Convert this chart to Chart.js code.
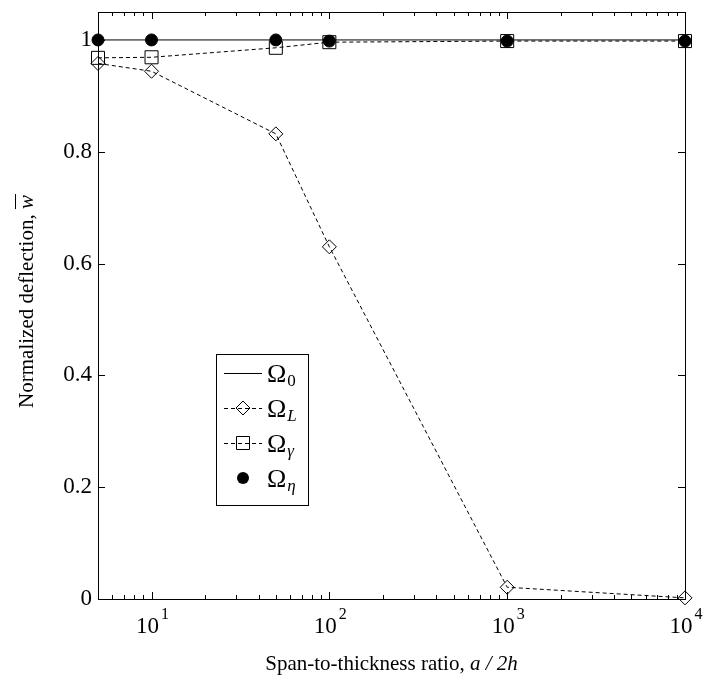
<!DOCTYPE html>
<html>
<head>
<meta charset="utf-8">
<script src="https://cdn.jsdelivr.net/npm/chart.js@4.4.0/dist/chart.umd.min.js"></script>
<style>
    html, body { margin: 0; padding: 0; background: #fff; }
    #wrap { width: 705px; height: 681px; }
</style>
</head>
<body>
<div id="wrap"><canvas id="chart"></canvas></div>
<script>
// span-to-thickness ratios
const ratios = [5, 10, 50, 100, 1000, 10000];
// normalized deflection per model
const omega0 = [1, 1, 1, 1, 1, 1];
const omegaL = [0.958, 0.944, 0.832, 0.630, 0.021, 0.002];
const omegaGamma = [0.968, 0.969, 0.986, 0.996, 0.998, 0.998];
const omegaEta = [1.0, 1.0, 1.0, 0.998, 0.998, 0.998];

const xTicks = [10, 100, 1000, 10000];
const xTickExp = ['1', '2', '3', '4'];
const yTicks = [0, 0.2, 0.4, 0.6, 0.8, 1];

const SERIF = "'Liberation Serif', 'DejaVu Serif', serif";

const toPoints = ys => ratios.map((x, i) => ({ x, y: ys[i] }));

// draws a marker like the ones used in the plot
function marker(ctx, style, x, y) {
    ctx.save();
    ctx.strokeStyle = '#000';
    ctx.lineWidth = 1;
    ctx.setLineDash([]);
    ctx.beginPath();
    if (style === 'diamond') {
        ctx.moveTo(x - 7, y); ctx.lineTo(x, y - 7); ctx.lineTo(x + 7, y); ctx.lineTo(x, y + 7);
        ctx.closePath();
        ctx.stroke();
    } else if (style === 'square') {
        ctx.rect(x - 6.5, y - 6.5, 13, 13);
        ctx.stroke();
    } else if (style === 'dot') {
        ctx.fillStyle = '#000';
        ctx.arc(x, y, 6, 0, Math.PI * 2);
        ctx.fill();
    }
    ctx.restore();
}

const framePlugin = {
    id: 'frame',
    afterDraw(chart) {
        const { ctx, chartArea: a, scales: { x, y } } = chart;
        ctx.save();
        ctx.strokeStyle = '#000';
        ctx.lineWidth = 1;
        ctx.strokeRect(a.left + 0.5, a.top + 0.5, a.right - a.left, a.bottom - a.top);

        // inward ticks, x (major + minor)
        ctx.beginPath();
        for (let d = 1; d <= 10000; d *= 10) {
            for (let m = 1; m <= 9; m++) {
                const v = d * m;
                if (v < 5 || v > 10000) continue;
                const px = Math.round(x.getPixelForValue(v)) + 0.5;
                const len = m === 1 ? 7 : 4;
                ctx.moveTo(px, a.bottom); ctx.lineTo(px, a.bottom - len);
                ctx.moveTo(px, a.top); ctx.lineTo(px, a.top + len);
            }
        }
        // inward ticks, y
        yTicks.forEach(v => {
            const py = Math.round(y.getPixelForValue(v)) + 0.5;
            ctx.moveTo(a.left, py); ctx.lineTo(a.left + 7, py);
            ctx.moveTo(a.right, py); ctx.lineTo(a.right - 7, py);
        });
        ctx.stroke();

        // x tick labels 10^n
        ctx.fillStyle = '#000';
        ctx.textBaseline = 'alphabetic';
        xTicks.forEach((v, i) => {
            const px = x.getPixelForValue(v);
            ctx.font = '23px ' + SERIF;
            const w1 = ctx.measureText('10').width;
            ctx.font = '16px ' + SERIF;
            const w2 = ctx.measureText(xTickExp[i]).width;
            const left = px - (w1 + w2) / 2;
            ctx.font = '23px ' + SERIF;
            ctx.textAlign = 'left';
            ctx.fillText('10', left, 633);
            ctx.font = '16px ' + SERIF;
            ctx.fillText(xTickExp[i], left + w1 + 2, 619);
        });

        // x title
        ctx.font = '21px ' + SERIF;
        const t1 = 'Span-to-thickness ratio, ';
        const t2 = 'a / 2h';
        const tw1 = ctx.measureText(t1).width;
        ctx.font = 'italic 21px ' + SERIF;
        const tw2 = ctx.measureText(t2).width;
        let sx = (a.left + a.right) / 2 - (tw1 + tw2) / 2;
        ctx.font = '21px ' + SERIF;
        ctx.fillText(t1, sx, 670);
        ctx.font = 'italic 21px ' + SERIF;
        ctx.fillText(t2, sx + tw1, 670);

        // y title (rotated)
        ctx.save();
        ctx.translate(33, (a.top + a.bottom) / 2 - 4);
        ctx.rotate(-Math.PI / 2);
        ctx.font = '21px ' + SERIF;
        const y1 = 'Normalized deflection, ';
        const yw1 = ctx.measureText(y1).width;
        ctx.font = 'italic 21px ' + SERIF;
        const yw2 = ctx.measureText('w').width;
        const ys = -(yw1 + yw2) / 2;
        ctx.font = '21px ' + SERIF;
        ctx.fillText(y1, ys, 0);
        ctx.font = 'italic 21px ' + SERIF;
        ctx.fillText('w', ys + yw1, 0);
        ctx.beginPath();
        ctx.moveTo(ys + yw1, -17.5); ctx.lineTo(ys + yw1 + yw2 + 1, -17.5);
        ctx.stroke();
        ctx.restore();

        // legend
        const lx = 216, ly = 354, lw = 92, lh = 151;
        ctx.fillStyle = '#fff';
        ctx.fillRect(lx, ly, lw, lh);
        ctx.strokeRect(lx + 0.5, ly + 0.5, lw, lh);
        const rows = [
            { sub: '0', italic: false, dash: [], line: true, mk: null },
            { sub: 'L', italic: true, dash: [4, 3], line: true, mk: 'diamond' },
            { sub: 'γ', italic: true, dash: [4, 3], line: true, mk: 'square' },
            { sub: 'η', italic: true, dash: [], line: false, mk: 'dot' }
        ];
        rows.forEach((r, i) => {
            const cy = 373 + i * 35;
            if (r.line) {
                ctx.beginPath();
                ctx.setLineDash(r.dash);
                ctx.moveTo(224, cy + 0.5); ctx.lineTo(262, cy + 0.5);
                ctx.stroke();
                ctx.setLineDash([]);
            }
            if (r.mk) marker(ctx, r.mk, 243, cy);
            ctx.fillStyle = '#000';
            ctx.font = '26px ' + SERIF;
            ctx.textAlign = 'left';
            ctx.fillText('Ω', 267, cy + 9);
            const ow = ctx.measureText('Ω').width;
            ctx.font = (r.italic ? 'italic ' : '') + '17px ' + SERIF;
            ctx.fillText(r.sub, 267 + ow + 1, cy + 13);
        });
        ctx.restore();
    }
};

new Chart(document.getElementById('chart'), {
    type: 'line',
    data: {
        datasets: [
            {
                label: 'Ω0',
                data: toPoints(omega0),
                borderColor: '#000',
                borderWidth: 1,
                pointRadius: 0,
                order: 3,
                clip: false
            },
            {
                label: 'ΩL',
                data: toPoints(omegaL),
                borderColor: '#000',
                backgroundColor: 'rgba(0,0,0,0)',
                borderWidth: 1,
                borderDash: [4, 3],
                pointStyle: 'rectRot',
                pointRadius: 7,
                pointBorderWidth: 1,
                pointBackgroundColor: 'rgba(0,0,0,0)',
                order: 2,
                clip: false
            },
            {
                label: 'Ωγ',
                data: toPoints(omegaGamma),
                borderColor: '#000',
                backgroundColor: 'rgba(0,0,0,0)',
                borderWidth: 1,
                borderDash: [4, 3],
                pointStyle: 'rect',
                pointRadius: 9.2,
                pointBorderWidth: 1,
                pointBackgroundColor: 'rgba(0,0,0,0)',
                order: 1,
                clip: false
            },
            {
                label: 'Ωη',
                data: toPoints(omegaEta),
                borderColor: '#000',
                backgroundColor: '#000',
                showLine: false,
                pointStyle: 'circle',
                pointRadius: 6,
                pointBackgroundColor: '#000',
                order: 0,
                clip: false
            }
        ]
    },
    options: {
        responsive: true,
        maintainAspectRatio: false,
        animation: false,
        layout: { padding: { top: 12, right: 20, left: 0, bottom: 0 } },
        plugins: {
            legend: { display: false },
            tooltip: { enabled: false }
        },
        scales: {
            x: {
                type: 'logarithmic',
                min: 5,
                max: 10000,
                grid: { display: false, drawTicks: false },
                border: { display: false },
                ticks: { display: false },
                afterBuildTicks: s => { s.ticks = xTicks.map(v => ({ value: v })); },
                afterFit: s => { s.height = 82; s.paddingLeft = 0; s.paddingRight = 0; }
            },
            y: {
                min: 0,
                max: 1.05,
                grid: { display: false, drawTicks: false },
                border: { display: false },
                ticks: {
                    color: '#000',
                    padding: 6,
                    font: { family: SERIF, size: 23 },
                    callback: v => String(v)
                },
                afterBuildTicks: s => { s.ticks = yTicks.map(v => ({ value: v })); },
                afterFit: s => { s.width = 98; s.paddingTop = 0; s.paddingBottom = 0; }
            }
        }
    },
    plugins: [framePlugin]
});
</script>
</body>
</html>
